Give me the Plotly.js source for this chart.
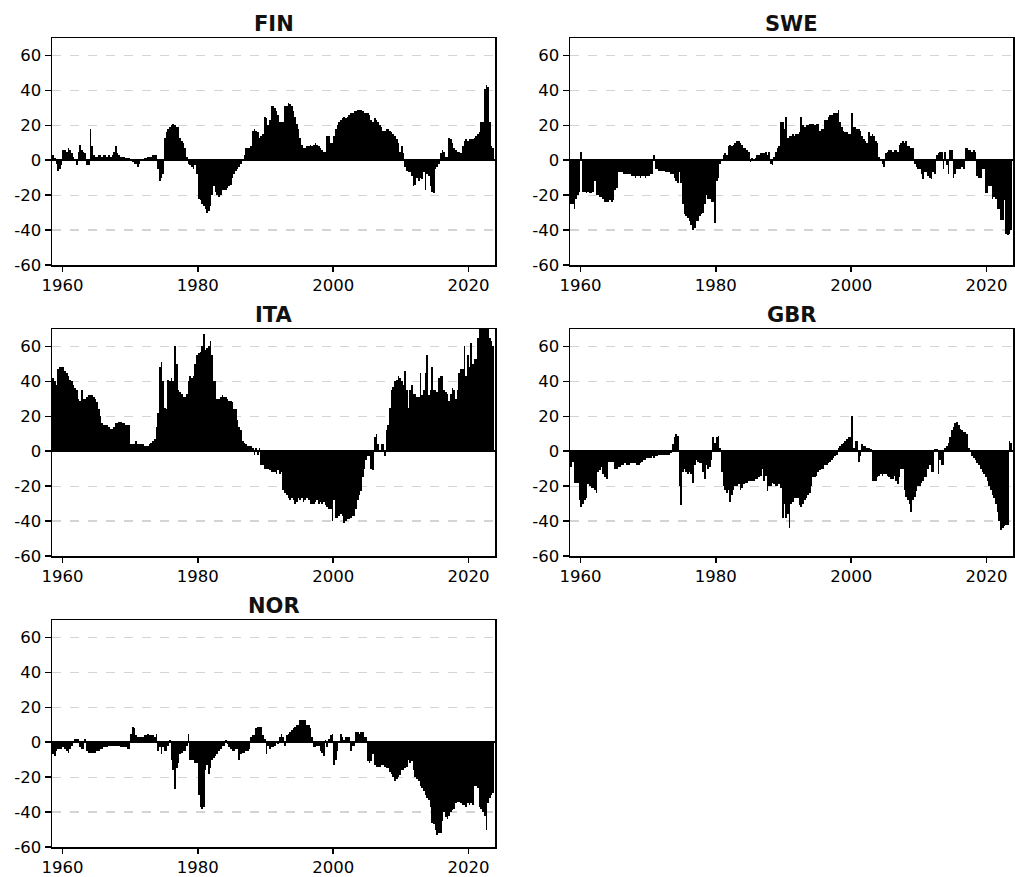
<!DOCTYPE html>
<html>
<head>
<meta charset="utf-8">
<script src="https://cdn.plot.ly/plotly-3.0.1.min.js"></script>
<style>
  html, body { margin: 0; padding: 0; background: #ffffff; }
  #chart { width: 1015px; height: 877px; }
</style>
</head>
<body>
<div id="chart"></div>
<script>
// Quarterly series, first value = 1958 Q3, last value = 2023 Q3 (one line per year).
const firstQuarterStart = 1958.5;
const yearTicks = [1960, 1980, 2000, 2020];
const valueTicks = [-60, -40, -20, 0, 20, 40, 60];
const valueTickText = ['-60', '-40', '-20', '0', '20', '40', '60'];

const FIN = [
  3, 1,
  -2, -6, -5, -3,
  6, 6, 5, 7,
  6, 4, 2, 0,
  -3, 5, 9, 6,
  5, 4, -3, -3,
  18, 8, 3, 2,
  2, 3, 3, 2,
  3, 3, 2, 3,
  2, 3, 5, 8,
  4, 3, 2, 2,
  2, 1, 1, 1,
  0, -1, -2, -2,
  -4, -2, 0, 0,
  1, 1, 2, 2,
  2, 3, 3, 3,
  -5, -12, -10, -8,
  13, 16, 18, 19,
  20, 21, 20, 19,
  19, 13, 11, 10,
  7, 2, -2, -3,
  -4, -5, -3, -8,
  -22, -23, -25, -26,
  -28, -30, -29, -26,
  -20, -15, -18, -20,
  -21, -20, -17, -17,
  -17, -16, -15, -14,
  -10, -8, -6, -5,
  -4, -2, 0, 3,
  7, 7, 7, 8,
  17, 18, 17, 16,
  13, 14, 15, 25,
  24, 20, 23, 31,
  31, 30, 28, 26,
  22, 22, 22, 31,
  31, 33, 32, 31,
  28, 25, 21, 18,
  13, 9, 7, 7,
  8, 8, 9, 8,
  9, 10, 9, 8,
  7, 6, 5, 5,
  14, 14, 10, 10,
  14, 18, 20, 22,
  23, 24, 25, 24,
  25, 26, 27, 27,
  28, 28, 29, 29,
  29, 28, 27, 27,
  27, 26, 23, 22,
  24, 23, 22, 20,
  19, 17, 17, 18,
  18, 17, 16, 15,
  14, 12, 10, 5,
  8, 4, -4, -6,
  -7, -7, -9, -15,
  -14, -10, -12, -10,
  -11, -7, -17, -8,
  -9, -15, -18, -19,
  -5, -4, -2, 4,
  6, 5, 2, 2,
  13, 12, 10, 7,
  6, 5, 5, 4,
  8, 11, 12, 11,
  12, 12, 12, 13,
  14, 15, 16, 22,
  22, 41, 43, 42,
  22, 8, 7
];

const SWE = [
  -25, -25,
  -28, -22, -20, -18,
  5, -18, -18, -19,
  -18, -19, -19, -18,
  -12, -20, -20, -21,
  -21, -22, -24, -24,
  -24, -23, -24, -23,
  -17, -16, -7, -7,
  -7, -8, -8, -8,
  -8, -8, -9, -9,
  -10, -9, -9, -10,
  -9, -9, -10, -9,
  -9, -8, -8, 3,
  -5, -5, -6, -6,
  -6, -6, -7, -7,
  -7, -8, -8, -10,
  -12, -13, -7, -13,
  -25, -31, -32, -33,
  -35, -37, -40, -39,
  -35, -35, -32, -31,
  -30, -25, -20, -22,
  -22, -24, -24, -36,
  -12, -10, -2, 0,
  3, 4, 3, 8,
  9, 8, 9, 10,
  11, 11, 10, 9,
  7, 7, 6, 5,
  -1, 1, 0, 1,
  3, 3, 4, 4,
  4, 5, 3, 5,
  -2, -3, 2, 5,
  7, 8, 22, 22,
  18, 25, 13, 14,
  14, 15, 14, 15,
  15, 16, 25, 20,
  19, 20, 20, 21,
  21, 21, 20, 21,
  21, 17, 18, 18,
  23, 23, 25, 26,
  26, 27, 27, 27,
  29, 22, 19, 17,
  16, 16, 15, 15,
  27, 19, 19, 18,
  18, 17, 14, 12,
  11, 10, 16, 14,
  15, 14, 11, 10,
  2, 0, -2, -4,
  4, 5, 6, 6,
  5, 6, 6, 5,
  9, 10, 11, 10,
  11, 8, 8, 7,
  7, -2, -4, -5,
  -5, -8, -11, -7,
  -7, -9, -10, -11,
  -7, -8, 3, 4,
  5, 5, -5, 5,
  -3, -8, 6, 6,
  -10, -8, -5, -5,
  -5, -4, -5, 7,
  7, 6, 6, 5,
  6, 5, -9, -10,
  -10, -5, -5, -19,
  -19, -15, -15, -22,
  -21, -22, -28, -28,
  -34, -34, -23, -42,
  -43, -42, -40
];

const ITA = [
  42, 40,
  38, 47, 48, 48,
  48, 46, 45, 43,
  41, 40, 38, 36,
  35, 30, 29, 35,
  30, 30, 31, 32,
  32, 32, 31, 30,
  28, 24, 20, 16,
  15, 15, 15, 14,
  13, 13, 14, 16,
  16, 17, 17, 16,
  16, 15, 15, 15,
  4, 4, 4, 6,
  4, 4, 4, 4,
  3, 3, 3, 4,
  5, 6, 7, 14,
  22, 48, 51, 40,
  25, 24, 41, 40,
  42, 40, 60, 50,
  35, 34, 33, 31,
  31, 33, 40, 43,
  42, 43, 50, 55,
  56, 57, 60, 67,
  58, 59, 60, 63,
  55, 40, 40, 30,
  30, 31, 32, 31,
  31, 30, 29, 29,
  28, 24, 24, 18,
  14, 12, 6, 5,
  4, 3, 3, 3,
  2, -2, 2, -2,
  2, -8, -8, -10,
  -10, -10, -11, -12,
  -12, -12, -13, -11,
  -13, -12, -22, -24,
  -25, -27, -28, -27,
  -28, -30, -29, -27,
  -28, -27, -29, -28,
  -27, -28, -30, -30,
  -30, -29, -28, -30,
  -29, -30, -29, -31,
  -32, -33, -33, -40,
  -28, -38, -38, -37,
  -36, -37, -41, -40,
  -39, -39, -38, -37,
  -37, -33, -28, -25,
  -23, -15, -10, -5,
  -3, -3, -10, -11,
  8, 10, 4, 0,
  4, 4, -3, 12,
  15, 25, 35, 37,
  40, 41, 43, 42,
  40, 38, 46, 35,
  25, 35, 38, 33,
  33, 31, 31, 45,
  32, 35, 45, 55,
  32, 35, 48, 35,
  35, 34, 42, 43,
  43, 35, 34, 33,
  29, 33, 36, 35,
  30, 35, 45, 47,
  47, 60, 43, 55,
  48, 62, 50, 53,
  53, 65, 72, 75,
  80, 78, 75, 72,
  65, 63, 60
];

const GBR = [
  -9, -6,
  -18, -18, -18, -28,
  -32, -30, -28, -27,
  -19, -20, -21, -21,
  -22, -24, -12, -11,
  -9, -13, -15, -16,
  -6, -6, -6, -6,
  -10, -10, -9, -9,
  -8, -8, -7, -8,
  -8, -7, -7, -7,
  -7, -8, -8, -7,
  -6, -5, -5, -4,
  -4, -4, -3, -4,
  -3, -3, -2, -2,
  -2, -2, -2, -2,
  -2, -1, 4, 8,
  10, 9, -20, -31,
  -12, -10, -12, -13,
  -12, -13, -18, -8,
  -5, -6, -7, -7,
  -12, -16, -8, -10,
  -9, -5, 8, 5,
  8, 9, 2, -12,
  -20, -22, -24, -22,
  -29, -25, -22, -20,
  -20, -19, -22, -21,
  -19, -18, -18, -17,
  -17, -17, -17, -16,
  -16, -15, -14, -10,
  -17, -14, -23, -20,
  -20, -18, -19, -20,
  -20, -19, -21, -38,
  -30, -38, -36, -44,
  -30, -29, -27, -27,
  -27, -31, -32, -30,
  -28, -27, -25, -24,
  -20, -15, -15, -14,
  -12, -11, -10, -10,
  -8, -8, -7, -6,
  -5, -4, -3, -2,
  2, 3, 4, 5,
  6, 7, 8, 8,
  20, 2, 6, 6,
  -6, -3, 4, 3,
  3, 2, 2, 1,
  -17, -17, -17, -15,
  -14, -13, -14, -13,
  -13, -14, -15, -16,
  -16, -14, -17, -19,
  -15, -10, -10, -22,
  -26, -28, -30, -35,
  -28, -26, -23, -20,
  -20, -18, -17, -15,
  -15, -10, -8, -12,
  -12, 1, 1, -13,
  -5, -8, -8, 2,
  3, 5, 8, 12,
  14, 16, 17, 15,
  13, 12, 11, 11,
  10, 2, 0, -3,
  -4, -5, -7, -8,
  -10, -12, -13, -15,
  -17, -20, -22, -25,
  -27, -30, -35, -40,
  -45, -44, -43, -42,
  -42, 6, 5
];

const NOR = [
  -7, -8,
  -5, -4, -4, -4,
  -3, -4, -5, -6,
  -4, -2, 0, 2,
  2, 2, -3, -4,
  -4, 2, -5, -6,
  -6, -6, -6, -6,
  -5, -5, -4, -4,
  -3, -3, -3, -2,
  -2, -2, -2, -2,
  -2, -2, -3, -3,
  -3, -3, -4, -4,
  5, 9, 8, 4,
  3, 3, 3, 3,
  4, 4, 5, 4,
  4, 4, 3, 5,
  -5, -3, -7, -3,
  -5, -5, -2, 1,
  -10, -16, -27, -15,
  -12, -7, -6, -5,
  -5, -2, 5, -10,
  -10, -10, -12, -12,
  -30, -37, -38, -37,
  -16, -13, -18, -15,
  -10, -9, -8, -7,
  -5, -4, -2, -2,
  1, -1, -3, -4,
  -5, -5, -4, -4,
  -10, -7, -6, -6,
  -5, -5, -4, 3,
  4, 4, 8, 9,
  9, 9, 4, 2,
  -7, -2, -4, -3,
  -3, -2, 0, -1,
  3, 5, 3, -2,
  4, 5, 6, 7,
  8, 9, 10, 10,
  13, 13, 13, 13,
  10, 10, 8, 3,
  -3, -3, -2, -2,
  -5, -6, -8, 1,
  -3, 2, 4, 5,
  -13, -10, -5, 0,
  5, 3, 1, 3,
  3, 3, -5, -2,
  -2, 6, 6, 5,
  6, 6, 3, 3,
  -11, -12, -11, -7,
  -13, -14, -14, -14,
  -13, -13, -14, -15,
  -15, -17, -18, -20,
  -22, -21, -20, -19,
  -16, -16, -15, -14,
  -10, -12, -11, -16,
  -20, -21, -22, -25,
  -26, -28, -30, -32,
  -33, -37, -46, -47,
  -50, -53, -52, -52,
  -45, -40, -43, -44,
  -42, -40, -39, -38,
  -35, -34, -34, -35,
  -36, -36, -37, -35,
  -36, -35, -36, -25,
  -25, -26, -37, -38,
  -40, -42, -50, -35,
  -32, -30, -29
];

// Panel layout in pixels (left, right, top, bottom of each plotting box)
const W = 1015, H = 877;
const panels = [
  { name: 'FIN', values: FIN, box: [52, 495, 38, 265] },
  { name: 'SWE', values: SWE, box: [570, 1013, 38, 265] },
  { name: 'ITA', values: ITA, box: [52, 495, 329, 556] },
  { name: 'GBR', values: GBR, box: [570, 1013, 329, 556] },
  { name: 'NOR', values: NOR, box: [52, 495, 620, 847] }
];

const tickFont = { family: 'DejaVu Sans, Arial, sans-serif', size: 16.5, color: '#000000' };
const titleFont = { family: 'DejaVu Sans, Arial, sans-serif', size: 21, color: '#111111', weight: 'bold' };

const traces = [];
const layout = {
  width: W, height: H,
  margin: { l: 0, r: 0, t: 0, b: 0 },
  paper_bgcolor: '#ffffff',
  plot_bgcolor: '#ffffff',
  showlegend: false,
  bargap: 0,
  bargroupgap: 0,
  annotations: []
};

panels.forEach((p, k) => {
  const n = k + 1;
  const suffix = n === 1 ? '' : String(n);
  const xs = p.values.map((_, i) => firstQuarterStart + i * 0.25 + 0.125);
  // No outline: bar edges snap to whole pixels, so neighbouring bars join without seams
  traces.push({
    type: 'bar',
    x: xs,
    y: p.values,
    width: 0.25,
    marker: { color: '#000000', line: { width: 0 } },
    xaxis: 'x' + suffix,
    yaxis: 'y' + suffix,
    hoverinfo: 'x+y'
  });

  const [l, r, t, b] = p.box;
  const xdom = [l / W, r / W];
  const ydom = [1 - b / H, 1 - t / H];

  layout['xaxis' + suffix] = {
    domain: xdom,
    anchor: 'y' + suffix,
    range: [1958.45, 2023.9],
    tickmode: 'array',
    tickvals: yearTicks,
    ticks: 'outside', ticklen: 5, tickwidth: 1.5, tickcolor: '#000000',
    tickfont: tickFont,
    showline: true, mirror: true, linecolor: '#000000', linewidth: 1.5,
    showgrid: false, zeroline: false, fixedrange: true
  };
  layout['yaxis' + suffix] = {
    domain: ydom,
    anchor: 'x' + suffix,
    range: [-60, 70],
    tickmode: 'array',
    tickvals: valueTicks,
    ticktext: valueTickText,
    ticks: 'outside', ticklen: 6, tickwidth: 1.5, tickcolor: '#000000',
    tickfont: tickFont,
    showline: true, mirror: true, linecolor: '#000000', linewidth: 1.5,
    showgrid: true, gridcolor: '#d4d4d4', gridwidth: 1.2, griddash: 'dash',
    zeroline: true, zerolinecolor: '#000000', zerolinewidth: 1.5,
    fixedrange: true
  };

  layout.annotations.push({
    text: '<b>' + p.name + '</b>',
    xref: 'paper', yref: 'paper',
    x: (xdom[0] + xdom[1]) / 2,
    y: 1 - (t - 14) / H,
    xanchor: 'center', yanchor: 'middle',
    showarrow: false,
    font: titleFont
  });
});

Plotly.newPlot('chart', traces, layout, { displayModeBar: false, staticPlot: true });
</script>
</body>
</html>
